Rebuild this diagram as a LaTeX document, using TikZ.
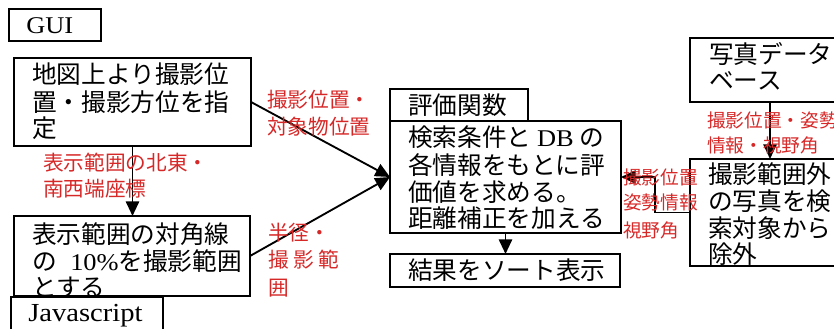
\documentclass[tikz,border=0pt]{standalone}
\usepackage{fontspec}
\newfontfamily\cjk{Noto Sans CJK JP}
\newfontfamily\lat[FakeStretch=1.1]{Liberation Serif}
\usetikzlibrary{arrows.meta}
\definecolor{lblred}{RGB}{215,40,40}
\begin{document}
\begin{tikzpicture}[x=0.75pt,y=-0.75pt,
  boxst/.style={draw, line width=1.4pt, inner sep=0pt, outer sep=0pt, anchor=north west},
  jt/.style={anchor=base west, inner sep=0pt, font=\cjk\fontsize{18.5}{22}\selectfont},
  lt/.style={anchor=base west, inner sep=0pt, font=\lat\fontsize{18}{22}\selectfont},
  lbl/.style={anchor=base west, inner sep=0pt, text=lblred, font=\cjk\fontsize{15.5}{18}\selectfont},
  lbls/.style={anchor=base west, inner sep=0pt, text=lblred, font=\cjk\fontsize{14}{17}\selectfont},
  arr/.style={line width=1.4pt, -{Triangle[length=11pt,width=10pt]}}]
\useasboundingbox (0,0) rectangle (834,328);
\clip (0,0) rectangle (834,328);
% boxes
\node[boxst, minimum width=69pt, minimum height=24pt] (gui) at (9,9) {};
\node[boxst, minimum width=177.75pt, minimum height=66pt] (A) at (14,58) {};
\node[boxst, minimum width=177pt, minimum height=60pt] (B) at (14,216) {};
\node[boxst, minimum width=114pt, minimum height=32pt] (js) at (11,297) {};
\node[boxst, minimum width=103.5pt, minimum height=24pt] (ev) at (390,89) {};
\node[boxst, minimum width=173.25pt, minimum height=84pt] (M) at (390,121) {};
\node[boxst, minimum width=172.5pt, minimum height=24.75pt] (R) at (390,254) {};
\node[boxst, minimum width=120pt, minimum height=48pt] (DB) at (690,38) {};
\node[boxst, minimum width=120pt, minimum height=80.25pt] (C) at (690,159) {};
% texts
\node[lt] (tgui) at (26,34) {GUI};
\node[lt, font=\lat\fontsize{19.5}{22}\selectfont] (tjs) at (28,321) {Javascript};
\node[jt] (a1) at (32,83.5) {地図上より撮影位};
\node[jt] (a2) at (32,111.5) {置・撮影方位を指};
\node[jt] (a3) at (32,137.5) {定};
\node[jt] (b1) at (32,243.5) {表示範囲の対角線};
\node[jt] (b2) at (32,270.5) {の\hspace{10pt}{\lat\fontsize{18}{20}\selectfont 10\%}を撮影範囲};
\node[jt] (b3) at (32,296.5) {とする};
\node[jt] (e1) at (408,114.5) {評価関数};
\node[jt] (m1) at (408,146.5) {検索条件と {\lat\fontsize{18}{20}\selectfont DB} の};
\node[jt] (m2) at (408,174.5) {各情報をもとに評};
\node[jt] (m3) at (408,201.5) {価値を求める。};
\node[jt] (m4) at (408,227.5) {距離補正を加える};
\node[jt] (r1) at (408,279.5) {結果をソート表示};
\node[jt] (d1) at (709,63.5) {写真データ};
\node[jt] (d2) at (709,89.5) {ベース};
\node[jt] (c1) at (708,183.5) {撮影範囲外};
\node[jt] (c2) at (708,210.5) {の写真を検};
\node[jt] (c3) at (708,237.5) {索対象から};
\node[jt] (c4) at (708,263.5) {除外};
% connectors
\coordinate (bend) at (655,177);
\draw[arr] (A.south) -- (A.south |- B.north);
\draw[arr] (A.east) -- (M.west);
\draw[arr] (B.east) -- (M.west);
\draw[arr] (M.south) -- (M.south |- R.north);
\draw[arr] (DB.south) -- (C.north);
\draw[arr] (C.west) -| (bend) -- (M.east);
% labels
\node[lbl] (l1) at (267,107) {撮影位置・};
\node[lbl] (l2) at (267,134) {対象物位置};
\node[lbl] (l3) at (43,170) {表示範囲の北東・};
\node[lbl] (l4) at (43,196) {南西端座標};
\node[lbl] (l5) at (268,240) {半径・};
\node[lbl] (l6) at (268,267) {撮\hspace{3.5pt}影\hspace{3.5pt}範};
\node[lbl] (l7) at (268,295) {囲};
\node[lbls] (l8) at (707,127) {撮影位置・姿勢};
\node[lbls] (l9) at (707,152) {情報・視野角};
\node[lbls] (l10) at (623,184) {撮影位置};
\node[lbls] (l11) at (623,209) {姿勢情報};
\node[lbls] (l12) at (623,237) {視野角};
\end{tikzpicture}
\end{document}
